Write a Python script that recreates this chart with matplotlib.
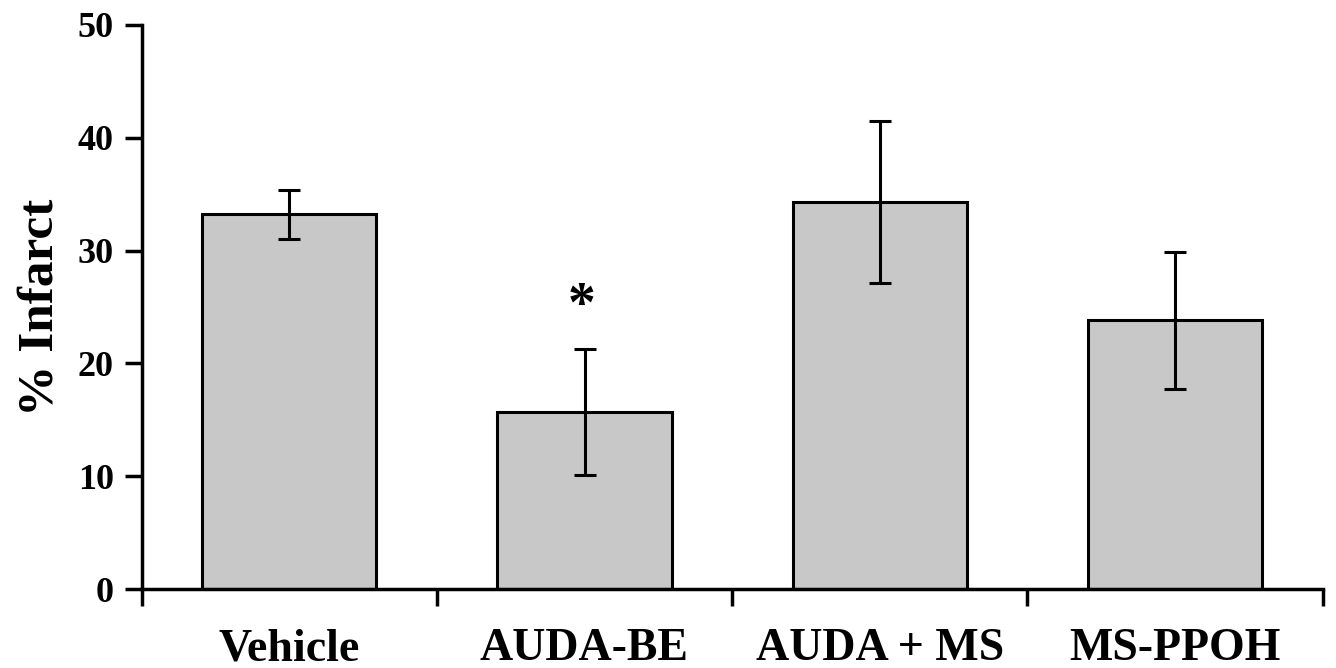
import matplotlib.pyplot as plt
import numpy as np

groups = ["Vehicle", "AUDA-BE", "AUDA + MS", "MS-PPOH"]
infarct = [33.2, 15.7, 34.3, 23.8]
sem = [2.2, 5.6, 7.2, 6.1]
star_group = 1
star_y = 25.0

plt.rcParams['font.family'] = ['Liberation Serif', 'DejaVu Serif']
plt.rcParams['font.weight'] = 'bold'

fig = plt.figure(figsize=(13.36, 6.68), dpi=100)
ax = fig.add_axes([0.106, 0.118, 0.884, 0.845])

x = np.arange(len(groups))
ax.bar(x, infarct, width=0.59, color='#c8c8c8', edgecolor='black', linewidth=2.2, zorder=2)
ax.errorbar(x, infarct, yerr=sem, fmt='none', ecolor='black', elinewidth=2.2,
            capsize=8, capthick=2.2, zorder=3)
ax.text(x[star_group] - 0.01, star_y, "*", ha='center', va='center', fontsize=40, fontweight='bold')

ax.set_xlim(-0.5, len(groups) - 0.5)
ax.set_ylim(0, 50)
ax.set_yticks(np.arange(0, 51, 10))
ax.set_yticklabels([str(v) for v in range(0, 51, 10)], fontsize=26, fontweight='bold')
ax.set_xticks(np.arange(-0.5, len(groups), 1.0))
ax.set_xticklabels([])
ax.set_xticks(x, minor=True)
ax.set_xticklabels(groups, minor=True, fontsize=33, fontweight='bold')
ax.tick_params(axis='x', which='minor', length=0, pad=28)
ax.tick_params(axis='x', which='major', length=12, width=2.5, direction='out')
ax.tick_params(axis='y', length=12, width=2.5, direction='out', pad=8)
ax.set_ylabel("% Infarct", fontsize=37, fontweight='bold', labelpad=10)

for s in ['top', 'right']:
    ax.spines[s].set_visible(False)
for s in ['left', 'bottom']:
    ax.spines[s].set_linewidth(2.5)

fig.savefig("out.png", dpi=100)
